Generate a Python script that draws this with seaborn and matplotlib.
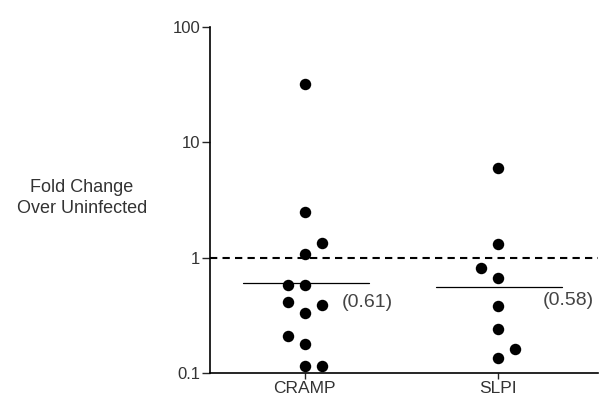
import numpy as np
import pandas as pd
import matplotlib.pyplot as plt
import seaborn as sns

# values
cramp_vals = [32, 2.5, 1.35, 1.08, 0.58, 0.58, 0.41, 0.39, 0.33, 0.21, 0.18, 0.115, 0.115]
cramp_lane = [0, 0, 1, 0, -1, 0, -1, 1, 0, -1, 0, 0, 1]
slpi_vals = [6.0, 1.32, 0.82, 0.66, 0.38, 0.24, 0.16, 0.135]
slpi_lane = [0, 0, -1, 0, 0, 0, 1, 0]
groups = ['CRAMP', 'SLPI']
medians = [0.61, 0.58]
median_lines = [0.6, 0.56]

df = pd.DataFrame({
    'group': ['CRAMP'] * len(cramp_vals) + ['SLPI'] * len(slpi_vals),
    'fold': cramp_vals + slpi_vals,
    'lane': cramp_lane + slpi_lane,
})
df['x'] = df['group'].map({g: i for i, g in enumerate(groups)}) + df['lane'] * 0.088

sns.set_style('white')
plt.rcParams['font.family'] = ['Liberation Sans', 'DejaVu Sans']

fig = plt.figure(figsize=(6.08, 4.07), dpi=100)
ax = fig.add_axes([0.345, 0.0835, 0.639, 0.8505])

sns.scatterplot(data=df, x='x', y='fold', color='black', s=68, edgecolor='black',
                linewidth=0, legend=False, ax=ax, zorder=3)

ax.set_yscale('log')
ax.set_ylim(0.1, 100)
ax.set_xlim(-0.492, 1.518)

# dashed reference line at 1
ax.axhline(1, color='black', lw=1.5, ls=(0, (3.5, 2.5)), zorder=2)

# median bars and labels
for i, (m, ml) in enumerate(zip(medians, median_lines)):
    ax.plot([i - 0.32, i + 0.33], [ml, ml], color='black', lw=0.9, zorder=2)
    ax.text(i + 0.19 if i == 0 else i + 0.23, 0.405 if i == 0 else 0.425, '(%.2f)' % m,
            fontsize=14, color='#444444', va='center', ha='left')

ax.set_xticks([0, 1])
ax.set_xticklabels(groups)
ax.set_yticks([0.1, 1, 10, 100])
ax.set_yticklabels(['0.1', '1', '10', '100'])
ax.minorticks_off()
ax.tick_params(axis='y', direction='out', length=6, width=1, left=True,
               labelsize=12, labelcolor='#333333', pad=1)
ax.tick_params(axis='x', direction='out', length=4, width=1, bottom=True,
               labelsize=12.5, labelcolor='#333333', pad=2)
ax.set_xlabel('')
ax.set_ylabel('')

for side in ['top', 'right']:
    ax.spines[side].set_visible(False)
for side in ['left', 'bottom']:
    ax.spines[side].set_color('black')
    ax.spines[side].set_linewidth(1.2)

fig.text(0.135, 0.513, 'Fold Change\nOver Uninfected', ha='center', va='center',
         fontsize=13, color='#333333', linespacing=1.3)

fig.savefig('out.png', dpi=100)
